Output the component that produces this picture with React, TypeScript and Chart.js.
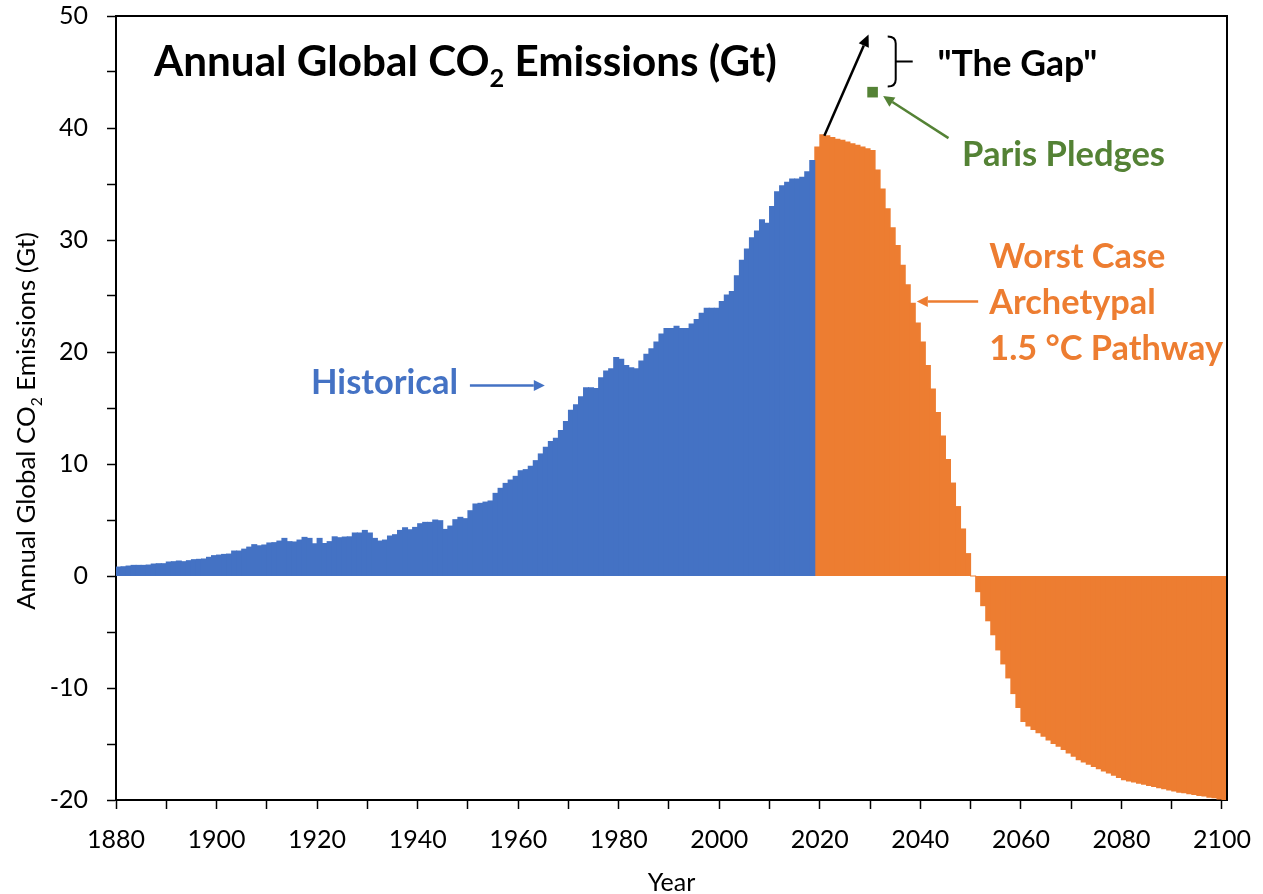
import React, { useEffect, useRef } from "react";
import { Chart, registerables } from "chart.js";

Chart.register(...registerables);

// ---------------- data ----------------
const X_MIN = 1880;
const X_MAX = 2101;
const Y_MIN = -20;
const Y_MAX = 50;
const X_TICK_STEP = 10;
const X_LABEL_EVERY = 20;
const Y_TICK_STEP = 5;
const Y_LABEL_EVERY = 10;

// Historical emissions, one value per year starting 1880 (Gt CO2)
const HISTORICAL_START = 1880;
const HISTORICAL = [
  0.8, 0.83, 0.89, 0.95, 0.95, 0.95, 0.98, 1.07, 1.1, 1.1, // 1880s
  1.25, 1.28, 1.34, 1.28, 1.37, 1.46, 1.49, 1.52, 1.67, 1.82, // 1890s
  1.87, 1.93, 1.96, 2.23, 2.23, 2.4, 2.58, 2.8, 2.7, 2.77, // 1900s
  2.95, 2.98, 3.12, 3.36, 3.07, 3.04, 3.21, 3.45, 3.36, 2.88, // 1910s
  3.36, 2.9, 3.07, 3.5, 3.42, 3.48, 3.5, 3.84, 3.84, 4.07, // 1920s
  3.84, 3.36, 3.12, 3.21, 3.57, 3.69, 4.07, 4.31, 4.13, 4.34, // 1930s
  4.67, 4.79, 4.79, 5.0, 4.94, 4.16, 4.46, 5.03, 5.24, 5.12, // 1940s
  5.83, 6.43, 6.49, 6.6, 6.7, 7.38, 7.83, 8.27, 8.57, 8.9, // 1950s
  9.4, 9.5, 9.8, 10.3, 10.9, 11.5, 12.0, 12.3, 13.0, 13.8, // 1960s
  14.8, 15.3, 16.0, 16.8, 16.8, 16.75, 17.7, 18.3, 18.5, 19.5, // 1970s
  19.35, 18.8, 18.6, 18.5, 19.2, 19.8, 20.3, 20.9, 21.6, 22.1, // 1980s
  22.1, 22.3, 22.1, 22.1, 22.5, 22.9, 23.45, 23.9, 23.9, 23.9, // 1990s
  24.5, 25.1, 25.4, 26.8, 28.2, 29.2, 30.2, 30.8, 31.8, 31.5, // 2000s
  33.0, 34.3, 34.85, 35.15, 35.45, 35.45, 35.6, 36.1, 37.1, // 2010-2018
];

// Worst case archetypal 1.5 °C pathway, one value per year starting 2019
const PATHWAY_START = 2019;
const PATHWAY = [
  38.3, // 2019
  39.4, 39.3, 39.15, 39.0, 38.9, 38.75, 38.6, 38.45, 38.3, 38.15, // 2020s
  38.0, 36.25, 34.55, 32.8, 31.1, 29.5, 27.75, 26.0, 24.35, 22.6, // 2030s
  20.9, 18.8, 16.7, 14.6, 12.5, 10.4, 8.3, 6.2, 4.2, 2.0, // 2040s
  0, -1.4, -2.65, -4.0, -5.25, -6.6, -7.85, -9.1, -10.5, -11.75, // 2050s
  -13.0, -13.4, -13.7, -14.0, -14.3, -14.65, -14.95, -15.2, -15.5, -15.8, // 2060s
  -16.1, -16.4, -16.6, -16.8, -17.0, -17.2, -17.4, -17.6, -17.8, -18.0, // 2070s
  -18.2, -18.3, -18.4, -18.5, -18.6, -18.7, -18.8, -18.9, -19.0, -19.1, // 2080s
  -19.2, -19.3, -19.35, -19.45, -19.5, -19.6, -19.65, -19.75, -19.8, -19.9, // 2090s
  -19.95, // 2100
];

const PARIS_YEAR = 2030;
const PARIS_VALUE = 43.2;

// ---------------- style ----------------
const FONT = "Lato";
const BLUE = "#4472C4";
const ORANGE = "#ED7D31";
const GREEN = "#548235";
const SUB_SCALE = 0.6;
const SUB_DROP = 0.27;

// each bar covers the year interval [year, year + 1]
const toPoints = (start: number, values: number[]) =>
  values.map((v, i) => ({ x: start + i + 0.5, y: v }));

type Part = { t: string; sub?: boolean };

function partsWidth(ctx: CanvasRenderingContext2D, parts: Part[], weight: string, size: number) {
  let w = 0;
  for (const p of parts) {
    ctx.font = `${weight} ${p.sub ? size * SUB_SCALE : size}px ${FONT}`;
    w += ctx.measureText(p.t).width;
  }
  return w;
}

function fitSize(ctx: CanvasRenderingContext2D, parts: Part[], weight: string, target: number) {
  return (100 * target) / partsWidth(ctx, parts, weight, 100);
}

function drawParts(
  ctx: CanvasRenderingContext2D,
  parts: Part[],
  weight: string,
  size: number,
  x: number,
  y: number
) {
  let cx = x;
  for (const p of parts) {
    const s = p.sub ? size * SUB_SCALE : size;
    ctx.font = `${weight} ${s}px ${FONT}`;
    ctx.fillText(p.t, cx, p.sub ? y + size * SUB_DROP : y);
    cx += ctx.measureText(p.t).width;
  }
}

function arrow(
  ctx: CanvasRenderingContext2D,
  x1: number,
  y1: number,
  x2: number,
  y2: number,
  color: string,
  lw: number,
  headLen: number,
  headHalf: number
) {
  const a = Math.atan2(y2 - y1, x2 - x1);
  const bx = x2 - headLen * Math.cos(a);
  const by = y2 - headLen * Math.sin(a);
  ctx.strokeStyle = color;
  ctx.fillStyle = color;
  ctx.lineWidth = lw;
  ctx.beginPath();
  ctx.moveTo(x1, y1);
  ctx.lineTo(bx, by);
  ctx.stroke();
  ctx.beginPath();
  ctx.moveTo(x2, y2);
  ctx.lineTo(bx + headHalf * Math.sin(a), by - headHalf * Math.cos(a));
  ctx.lineTo(bx - headHalf * Math.sin(a), by + headHalf * Math.cos(a));
  ctx.closePath();
  ctx.fill();
}

const annotationPlugin = {
  id: "annotations",
  afterDraw(chart: any) {
    const { ctx, chartArea: ca, scales } = chart;
    const X = (v: number) => scales.x.getPixelForValue(v);
    const Y = (v: number) => scales.y.getPixelForValue(v);
    ctx.save();

    // frame (top + right)
    ctx.strokeStyle = "#000";
    ctx.lineWidth = 2;
    ctx.beginPath();
    ctx.moveTo(ca.left - 1, ca.top);
    ctx.lineTo(ca.right, ca.top);
    ctx.lineTo(ca.right, ca.bottom);
    ctx.stroke();

    ctx.textAlign = "left";
    ctx.textBaseline = "alphabetic";

    // chart title
    const titleParts: Part[] = [{ t: "Annual Global CO" }, { t: "2", sub: true }, { t: " Emissions (Gt)" }];
    const ts = fitSize(ctx, titleParts, "bold", 623);
    ctx.fillStyle = "#000";
    drawParts(ctx, titleParts, "bold", ts, ca.left + 38, ca.top + 60);

    // y-axis title (rotated)
    const yParts: Part[] = [{ t: "Annual Global CO" }, { t: "2", sub: true }, { t: " Emissions (Gt)" }];
    const ys = fitSize(ctx, yParts, "normal", 378);
    const yw = partsWidth(ctx, yParts, "normal", ys);
    ctx.save();
    ctx.translate(35, (ca.top + ca.bottom) / 2 + 13);
    ctx.rotate(-Math.PI / 2);
    ctx.fillStyle = "#000";
    drawParts(ctx, yParts, "normal", ys, -yw / 2, 0);
    ctx.restore();

    // Historical label + arrow
    const hParts: Part[] = [{ t: "Historical" }];
    const hs = fitSize(ctx, hParts, "bold", 147);
    ctx.fillStyle = BLUE;
    drawParts(ctx, hParts, "bold", hs, X(1918.8), Y(16.25));
    arrow(ctx, X(1950.4), Y(17.0), X(1965.3), Y(17.0), BLUE, 2.5, 11, 5.5);

    // Black arrow from 2020 peak
    arrow(ctx, X(2020.9), Y(39.3), X(2029.7), Y(48.35), "#000", 2.5, 12, 5.5);

    // bracket "}"
    const bx = X(2035.1);
    const by = Y(45.93);
    ctx.strokeStyle = "#000";
    ctx.lineWidth = 2;
    ctx.beginPath();
    ctx.moveTo(bx - 8, by - 25);
    ctx.quadraticCurveTo(bx, by - 25, bx, by - 18);
    ctx.lineTo(bx, by + 18);
    ctx.quadraticCurveTo(bx, by + 25, bx - 8, by + 25);
    ctx.moveTo(bx, by);
    ctx.lineTo(bx + 17, by);
    ctx.stroke();

    // "The Gap"
    const gParts: Part[] = [{ t: "\"The Gap\"" }];
    const gs = fitSize(ctx, gParts, "bold", 160);
    ctx.fillStyle = "#000";
    drawParts(ctx, gParts, "bold", gs, X(2043.4), Y(44.6));

    // Paris pledges label + arrow
    const pParts: Part[] = [{ t: "Paris Pledges" }];
    const ps = fitSize(ctx, pParts, "bold", 203);
    ctx.fillStyle = GREEN;
    drawParts(ctx, pParts, "bold", ps, X(2048.3), Y(36.6));
    arrow(ctx, X(2045.6), Y(39.1), X(2032.6), Y(42.85), GREEN, 2.5, 11, 5.5);

    // Worst case pathway label + arrow
    const wLines = ["Worst Case", "Archetypal", "1.5 °C Pathway"];
    const ws = fitSize(ctx, [{ t: wLines[2] }], "bold", 234);
    ctx.fillStyle = ORANGE;
    wLines.forEach((line, i) => {
      drawParts(ctx, [{ t: line }], "bold", ws, X(2053.7), Y(27.5) + i * 46);
    });
    arrow(ctx, X(2051.5), Y(24.5), X(2039.3), Y(24.5), ORANGE, 2.5, 11, 5.5);

    ctx.restore();
  },
};

export default function App() {
  const canvasRef = useRef<HTMLCanvasElement | null>(null);

  useEffect(() => {
    const canvas = canvasRef.current;
    if (!canvas) return;

    const chart = new Chart(canvas, {
      type: "bar",
      data: {
        datasets: [
          {
            type: "bar",
            label: "Historical",
            data: toPoints(HISTORICAL_START, HISTORICAL),
            backgroundColor: BLUE,
            borderWidth: 0,
            barPercentage: 1,
            categoryPercentage: 1,
            inflateAmount: 0.5,
            grouped: false,
            order: 2,
          } as any,
          {
            type: "bar",
            label: "Worst Case Archetypal 1.5 °C Pathway",
            data: toPoints(PATHWAY_START, PATHWAY),
            backgroundColor: ORANGE,
            borderWidth: 0,
            barPercentage: 1,
            categoryPercentage: 1,
            inflateAmount: 0.5,
            grouped: false,
            order: 2,
          } as any,
          {
            type: "scatter",
            label: "Paris Pledges",
            data: [{ x: PARIS_YEAR + 0.5, y: PARIS_VALUE }],
            backgroundColor: GREEN,
            borderWidth: 0,
            pointStyle: "rect",
            pointRadius: 7.5,
            order: 1,
          } as any,
        ],
      },
      options: {
        responsive: false,
        animation: false,
        devicePixelRatio: 1,
        layout: { padding: { left: 0, top: 16, right: 36, bottom: 0 } },
        plugins: {
          legend: { display: false },
          tooltip: { enabled: false },
        },
        events: [],
        scales: {
          x: {
            type: "linear",
            min: X_MIN,
            max: X_MAX,
            offset: false,
            grid: { display: true, offset: false, drawOnChartArea: false, drawTicks: true, tickLength: 9, tickWidth: 1.5, tickColor: "#000" },
            border: { display: true, color: "#000", width: 2 },
            ticks: {
              stepSize: X_TICK_STEP,
              includeBounds: false,
              autoSkip: false,
              maxRotation: 0,
              minRotation: 0,
              padding: 16,
              color: "#000",
              font: { family: FONT, size: 25 },
              callback: (v: any) => (Number(v) % X_LABEL_EVERY === 0 ? String(v) : ""),
            },
            title: {
              display: true,
              text: "Year",
              color: "#000",
              font: { family: FONT, size: 25, lineHeight: 1 },
              padding: { top: 0, bottom: -1.5 },
            },
            afterFit: (s: any) => {
              s.height = 94;
              s.paddingLeft = 0;
              s.paddingRight = 0;
            },
          },
          y: {
            type: "linear",
            min: Y_MIN,
            max: Y_MAX,
            grid: { display: true, drawOnChartArea: false, drawTicks: true, tickLength: 9, tickWidth: 1.5, tickColor: "#000" },
            border: { display: true, color: "#000", width: 2 },
            ticks: {
              stepSize: Y_TICK_STEP,
              padding: 19,
              color: "#000",
              font: { family: FONT, size: 25 },
              callback: (v: any) => (Number(v) % Y_LABEL_EVERY === 0 ? String(v) : ""),
            },
            afterFit: (s: any) => {
              s.width = 116;
              s.paddingTop = 0;
              s.paddingBottom = 0;
            },
          },
        },
      } as any,
      plugins: [annotationPlugin],
    });

    return () => chart.destroy();
  }, []);

  return (
    <div style={{ position: "absolute", left: 0, top: 0, width: 1263, height: 894, background: "#fff" }}>
      <canvas ref={canvasRef} width={1263} height={894} style={{ display: "block" }} />
    </div>
  );
}
